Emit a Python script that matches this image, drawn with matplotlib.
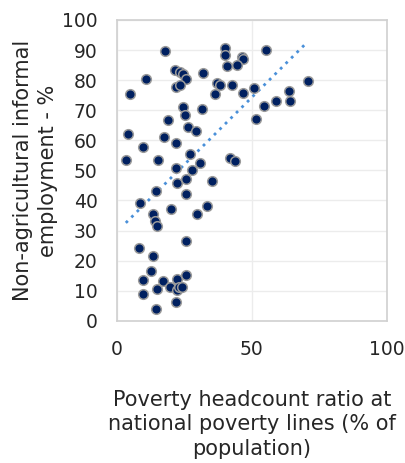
import matplotlib
matplotlib.use('Agg')
import matplotlib.pyplot as plt
import numpy as np

# poverty headcount ratio (% of population)
poverty = [17.8, 40.1, 40.1, 46.2, 46.8, 40.9, 44.6, 21.5, 23.3, 24.3, 25.4, 32.0,
           10.6, 21.9, 23.3, 37.2, 38.1, 42.5, 36.3, 46.8, 4.9, 24.6, 25.1, 31.4,
           19.0, 26.4, 29.3, 4.2, 9.8, 17.4, 21.9, 3.3, 15.3, 27.0, 30.7, 41.9,
           43.7, 21.9, 27.7, 55.1, 70.6, 50.7, 63.8, 59.1, 64.1, 54.4, 51.5,
           22.3, 25.6, 35.1, 14.4, 25.6, 8.5, 19.9, 33.2, 29.5, 13.2, 14.1, 14.9,
           25.6, 8.0, 13.4, 12.5, 9.5, 16.9, 22.1, 25.6, 14.9, 19.6, 22.1, 23.1,
           24.0, 9.5, 21.9, 14.4]
# non-agricultural informal employment (%)
informal = [89.7, 90.8, 88.4, 87.8, 86.9, 84.8, 85.0, 83.4, 82.8, 82.1, 80.3, 82.3,
            80.2, 77.8, 78.3, 79.2, 78.4, 78.5, 75.5, 75.6, 75.4, 70.9, 68.4, 70.5,
            66.8, 64.5, 63.0, 62.1, 57.9, 61.1, 59.0, 53.5, 53.5, 55.5, 52.6, 54.1,
            53.2, 50.7, 50.0, 90.0, 79.8, 77.5, 76.3, 72.9, 72.9, 71.4, 67.1,
            45.9, 47.1, 46.6, 43.0, 42.2, 39.3, 37.2, 38.3, 35.5, 35.5, 33.3, 31.6,
            26.5, 24.1, 21.7, 16.6, 13.6, 13.3, 13.8, 15.3, 10.5, 11.1, 10.1, 11.4,
            11.2, 9.0, 6.2, 4.1]

xticks = [0, 50, 100]
yticks = list(range(0, 101, 10))

plt.rcParams['font.family'] = ['DejaVu Sans']

fig = plt.figure(figsize=(4.06, 4.63), dpi=100)
ax = fig.add_axes([0.288, 0.307, 0.665, 0.65])

ax.scatter(poverty, informal, s=48, color='#002060', edgecolors='#9a9a9a',
           linewidths=1.1, zorder=3)

# linear trend line
x = np.array(poverty)
k, b = np.polyfit(x, informal, 1)
xs = np.array([x.min(), x.max()])
ax.plot(xs, k * xs + b, linestyle=(0, (1, 1.8)), color='#4a90d9', linewidth=2.0, zorder=2)

ax.set_xlim(0, 100)
ax.set_ylim(0, 100)
ax.set_xticks(xticks)
ax.set_yticks(yticks)
ax.grid(True, color='#ececec', linewidth=1.0, zorder=0)
ax.set_axisbelow(True)
ax.tick_params(axis='y', length=0, labelsize=13.5, colors='#262626', pad=14)
ax.tick_params(axis='x', length=0, labelsize=13.5, colors='#262626', pad=14)
for s in ax.spines.values():
    s.set_color('#d0d0d0')
    s.set_linewidth(1.2)

ax.set_xlabel('Poverty headcount ratio at\nnational poverty lines (% of\npopulation)',
              fontsize=15, color='#262626', labelpad=22, linespacing=1.28)
ax.set_ylabel('Non-agricultural informal\nemployment - %', fontsize=15,
              color='#262626', labelpad=3, linespacing=1.28)

fig.savefig('out.png', dpi=100)
